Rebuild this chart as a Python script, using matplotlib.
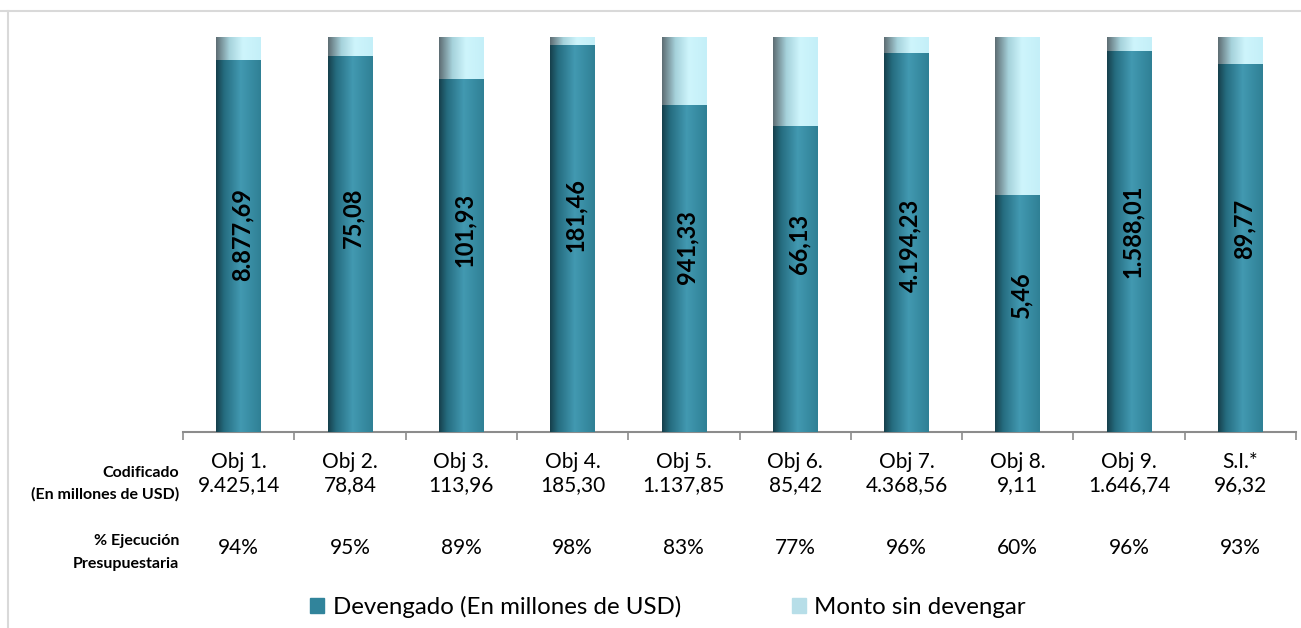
import matplotlib.pyplot as plt
import numpy as np
from matplotlib.colors import LinearSegmentedColormap
from matplotlib.lines import Line2D
from matplotlib.patches import Patch

plt.rcParams['font.family'] = ['Lato', 'DejaVu Sans']

# data
objetivos = ['Obj 1.', 'Obj 2.', 'Obj 3.', 'Obj 4.', 'Obj 5.',
             'Obj 6.', 'Obj 7.', 'Obj 8.', 'Obj 9.', 'S.I.*']
devengado = [8877.69, 75.08, 101.93, 181.46, 941.33,
             66.13, 4194.23, 5.46, 1588.01, 89.77]
codificado = [9425.14, 78.84, 113.96, 185.30, 1137.85,
              85.42, 4368.56, 9.11, 1646.74, 96.32]

# vertical spot (axes fraction) of each label inside its bar
label_y = [0.499, 0.542, 0.511, 0.549, 0.468, 0.476, 0.473, 0.347, 0.509, 0.514]


def fmt_es(v):
    s = f'{v:,.2f}'
    return s.replace(',', 'X').replace('.', ',').replace('X', '.')


dev = np.array(devengado)
cod = np.array(codificado)
frac_dev = dev / cod
frac_sin = 1 - frac_dev
x = np.arange(len(objetivos))

dark = '#31849B'
light = '#B7DEE8'
cmap_dark = LinearSegmentedColormap.from_list(
    'd', [(0, '#163f4b'), (0.18, '#256c7f'), (0.55, '#4299b1'), (1, '#2f8095')])
cmap_light = LinearSegmentedColormap.from_list(
    'l', [(0, '#5d6c72'), (0.3, '#a6d2db'), (0.6, '#cef5fc'), (1, '#c4eff8')])

fig = plt.figure(figsize=(13.01, 6.28), dpi=100)
ax = fig.add_axes([183 / 1301, 1 - 432 / 628, (1296 - 183) / 1301, (432 - 37) / 628])

w = 0.4
b1 = ax.bar(x, frac_dev, w, color=dark, zorder=2)
b2 = ax.bar(x, frac_sin, w, bottom=frac_dev, color=light, zorder=2)

# horizontal shading like the original cylinders
grad = np.linspace(0, 1, 256).reshape(1, -1)
for bars, cm in ((b1, cmap_dark), (b2, cmap_light)):
    for r in bars:
        x0, y0 = r.get_x(), r.get_y()
        im = ax.imshow(grad, cmap=cm, aspect='auto', zorder=3,
                       extent=[x0, x0 + r.get_width(), y0, y0 + r.get_height()])
        im.set_clip_path(r)

for i in x:
    ax.text(i + 0.03, label_y[i], fmt_es(dev[i]), rotation=90, ha='center', va='center',
            fontsize=17, fontweight='bold', color='black', zorder=5)

ax.set_xlim(-0.5, len(x) - 0.5)
ax.set_ylim(0, 1)
for s in ['top', 'right', 'left']:
    ax.spines[s].set_visible(False)
ax.spines['bottom'].set_color('#8c8c8c')
ax.spines['bottom'].set_linewidth(1.5)
ax.set_yticks([])
ax.set_xticks(np.arange(-0.5, len(x), 1))
ax.set_xticklabels([])
ax.tick_params(axis='x', direction='out', length=6, width=1.2, color='#8c8c8c')

for i in x:
    xf = (183 + (i + 0.5) * 111.3) / 1301
    fig.text(xf, 1 - 462 / 628, objetivos[i], ha='center', va='center', fontsize=15)
    fig.text(xf, 1 - 485 / 628, fmt_es(cod[i]), ha='center', va='center', fontsize=15)
    fig.text(xf, 1 - 548 / 628, f'{round(frac_dev[i] * 100)}%', ha='center', va='center', fontsize=15)

hx = 179 / 1301
fig.text(hx, 1 - 473 / 628, 'Codificado', ha='right', va='center', fontsize=11.5, fontweight='bold')
fig.text(hx, 1 - 494 / 628, '(En millones de USD)', ha='right', va='center', fontsize=11.5, fontweight='bold')
fig.text(hx, 1 - 541 / 628, '% Ejecución', ha='right', va='center', fontsize=11.5, fontweight='bold')
fig.text(hx, 1 - 564 / 628, 'Presupuestaria', ha='right', va='center', fontsize=11.5, fontweight='bold')

handles = [Patch(color=dark, label='Devengado (En millones de USD)'),
           Patch(color=light, label='Monto sin devengar')]
fig.legend(handles=handles, loc='center', bbox_to_anchor=(668 / 1301, 1 - 607 / 628), ncol=2,
           frameon=False, fontsize=17.3, handlelength=0.6, handleheight=0.6,
           handletextpad=0.35, columnspacing=4.6)

# outer chart frame (top and left edges visible)
fig.add_artist(Line2D([0, 1], [1 - 11 / 628] * 2, color='#d9d9d9', lw=1.5))
fig.add_artist(Line2D([8 / 1301] * 2, [0, 1 - 11 / 628], color='#d9d9d9', lw=1.5))

fig.savefig('out.png', dpi=100)
